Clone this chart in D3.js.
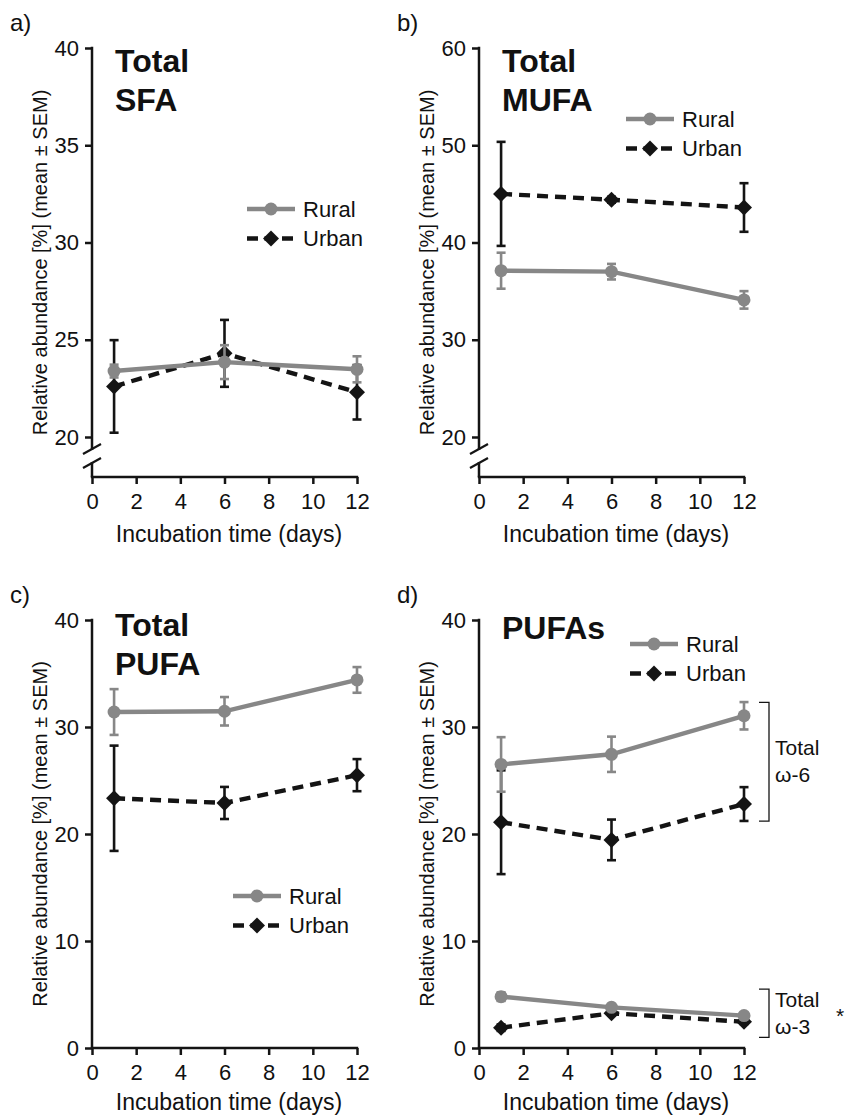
<!DOCTYPE html>
<html><head><meta charset="utf-8">
<script src="https://cdn.jsdelivr.net/npm/d3@7"></script>
<style>
body{margin:0;background:#fff}
svg{display:block}
text{font-family:"Liberation Sans",Arial,Helvetica,sans-serif;fill:#111}
</style>
</head><body>
<svg id="chart" width="853" height="1117"></svg>
<script>
// ---------- data ----------
const days = [1, 6, 12];
const xTicks = [0, 2, 4, 6, 8, 10, 12];
const seriesNames = ["Rural", "Urban"];

const sfaRural = [23.39, 23.85, 23.48], sfaRuralSem = [0.33, 0.87, 0.67];
const sfaUrban = [22.6, 24.3, 22.3],   sfaUrbanSem = [2.38, 1.72, 1.4];
const sfaTicks = [20, 25, 30, 35, 40];

const mufaRural = [37.1, 37.0, 34.1],  mufaRuralSem = [1.85, 0.8, 0.9];
const mufaUrban = [45.0, 44.4, 43.6],  mufaUrbanSem = [5.35, 0.3, 2.5];
const mufaTicks = [20, 30, 40, 50, 60];

const pufaRural = [31.4, 31.47, 34.4], pufaRuralSem = [2.14, 1.33, 1.2];
const pufaUrban = [23.34, 22.9, 25.5], pufaUrbanSem = [4.92, 1.5, 1.5];
const pufaTicks = [0, 10, 20, 30, 40];

const n6Rural = [26.5, 27.45, 31.05],  n6RuralSem = [2.55, 1.65, 1.28];
const n6Urban = [21.1, 19.45, 22.8],   n6UrbanSem = [4.85, 1.9, 1.58];
const n3Rural = [4.8, 3.8, 3.03],      n3RuralSem = [0.4, 0.3, 0.2];
const n3Urban = [1.9, 3.25, 2.45],     n3UrbanSem = [0.3, 0.2, 0.2];
const omega6Range = [21.2, 32.3], omega3Range = [1.0, 5.5];

// ---------- style ----------
const GRAY = "#878787", BLACK = "#141414";
const FONT = '"Liberation Sans",Arial,sans-serif';
const svg = d3.select("#chart");

function drawPanel(o) {
  const g = svg.append("g");
  const x = d3.scaleLinear().domain([0, 12]).range([o.x0, o.x0 + 265]);
  const y = d3.scaleLinear().domain(o.domain).range([o.yBot, o.yTop]);

  // y axis ticks
  const ya = g.append("g").attr("transform", `translate(${o.x0},0)`)
    .call(d3.axisLeft(y).tickValues(o.ticks).tickSize(7).tickPadding(6).tickSizeOuter(0));
  ya.select(".domain").remove();
  ya.selectAll("line").attr("stroke", BLACK).attr("stroke-width", 2.5);
  ya.selectAll("text").attr("font-size", 22).attr("fill", BLACK).attr("font-family", FONT);

  // y axis line (with optional break)
  if (o.brk) {
    const b1 = o.axisY - 28, b2 = o.axisY - 14;
    g.append("line").attr("x1", o.x0).attr("x2", o.x0).attr("y1", o.yTop - 1.2).attr("y2", b1 + 1)
      .attr("stroke", BLACK).attr("stroke-width", 2.5);
    g.append("line").attr("x1", o.x0).attr("x2", o.x0).attr("y1", b2 - 1).attr("y2", o.axisY)
      .attr("stroke", BLACK).attr("stroke-width", 2.5);
    [b1, b2].forEach(b => g.append("line")
      .attr("x1", o.x0 - 9).attr("y1", b + 5).attr("x2", o.x0 + 9).attr("y2", b - 5)
      .attr("stroke", BLACK).attr("stroke-width", 2.2));
  } else {
    g.append("line").attr("x1", o.x0).attr("x2", o.x0).attr("y1", o.yTop - 1.2).attr("y2", o.axisY)
      .attr("stroke", BLACK).attr("stroke-width", 2.5);
  }

  // x axis
  const xa = g.append("g").attr("transform", `translate(0,${o.axisY})`)
    .call(d3.axisBottom(x).tickValues(xTicks).tickSize(7).tickPadding(9).tickSizeOuter(0));
  xa.select(".domain").attr("stroke", BLACK).attr("stroke-width", 2.5)
    .attr("d", `M${o.x0 - 1.2},0H${o.x0 + 265 + 1.2}`);
  xa.selectAll("line").attr("stroke", BLACK).attr("stroke-width", 2.5);
  xa.selectAll("text").attr("font-size", 22).attr("fill", BLACK).attr("font-family", FONT);

  // axis titles
  g.append("text").attr("x", o.x0 + 137).attr("y", o.axisY + o.xtDy)
    .attr("text-anchor", "middle").attr("font-size", 23).text("Incubation time (days)");
  const cy = (o.yTop + o.axisY) / 2;
  g.append("text").attr("transform", `translate(${o.x0 - 45},${cy}) rotate(-90)`)
    .attr("text-anchor", "middle").attr("font-size", 20)
    .text("Relative abundance [%] (mean \u00b1 SEM)");

  // panel letter
  g.append("text").attr("x", o.x0 - 82).attr("y", o.yTop - 17).attr("font-size", 24).text(o.letter);

  // title
  o.title.forEach((t, i) => g.append("text").attr("x", o.x0 + 23).attr("y", o.titleY + i * 39)
    .attr("font-size", 32).attr("font-weight", "bold").text(t));

  // series
  o.series.forEach(s => {
    const pts = days.map((d, i) => ({ d, v: s.vals[i], e: s.sem[i] }));
    const sg = g.append("g");
    sg.append("path").datum(pts)
      .attr("d", d3.line().x(p => x(p.d)).y(p => y(p.v)))
      .attr("fill", "none").attr("stroke", s.color).attr("stroke-width", 4.4)
      .attr("stroke-dasharray", s.dashed ? "11,7" : null);
    pts.forEach(p => {
      sg.append("line").attr("x1", x(p.d)).attr("x2", x(p.d)).attr("y1", y(p.v - p.e)).attr("y2", y(p.v + p.e))
        .attr("stroke", s.color).attr("stroke-width", 2.6);
      [p.v - p.e, p.v + p.e].forEach(c => sg.append("line")
        .attr("x1", x(p.d) - 4.5).attr("x2", x(p.d) + 4.5).attr("y1", y(c)).attr("y2", y(c))
        .attr("stroke", s.color).attr("stroke-width", 2.6));
    });
    pts.forEach(p => marker(sg, s.kind, x(p.d), y(p.v), s.color));
  });

  // legend
  const L = o.legend;
  seriesNames.forEach((name, i) => {
    const yy = L.y + i * 29.5;
    const rural = name === "Rural";
    g.append("line").attr("x1", L.x).attr("x2", L.x + 48).attr("y1", yy).attr("y2", yy)
      .attr("stroke", rural ? GRAY : BLACK).attr("stroke-width", 4.4)
      .attr("stroke-dasharray", rural ? null : "11,6.5");
    marker(g, rural ? "circle" : "diamond", L.x + 24, yy, rural ? GRAY : BLACK);
    g.append("text").attr("x", L.x + 56).attr("y", yy).attr("dy", "0.36em")
      .attr("font-size", 22).text(name);
  });
  return { x, y, g };
}

function marker(g, kind, cx, cy, color) {
  if (kind === "circle") {
    g.append("circle").attr("cx", cx).attr("cy", cy).attr("r", 6.5).attr("fill", color);
  } else {
    g.append("path").attr("d", "M0,-8L8,0L0,8L-8,0Z")
      .attr("transform", `translate(${cx},${cy})`).attr("fill", color);
  }
}

const R = (vals, sem) => ({ vals, sem, color: GRAY, kind: "circle", dashed: false });
const U = (vals, sem) => ({ vals, sem, color: BLACK, kind: "diamond", dashed: true });

drawPanel({ letter: "a)", x0: 92, domain: [20, 40], ticks: sfaTicks, yBot: 437, yTop: 48, axisY: 477, brk: true,
  xtDy: 65, title: ["Total", "SFA"], titleY: 72, legend: { x: 247, y: 209 },
  series: [U(sfaUrban, sfaUrbanSem), R(sfaRural, sfaRuralSem)] });

drawPanel({ letter: "b)", x0: 479, domain: [20, 60], ticks: mufaTicks, yBot: 437, yTop: 48, axisY: 477, brk: true,
  xtDy: 65, title: ["Total", "MUFA"], titleY: 72, legend: { x: 626, y: 119 },
  series: [U(mufaUrban, mufaUrbanSem), R(mufaRural, mufaRuralSem)] });

drawPanel({ letter: "c)", x0: 92, domain: [0, 40], ticks: pufaTicks, yBot: 1048, yTop: 620, axisY: 1048, brk: false,
  xtDy: 62, title: ["Total", "PUFA"], titleY: 636, legend: { x: 233, y: 896 },
  series: [U(pufaUrban, pufaUrbanSem), R(pufaRural, pufaRuralSem)] });

const pd = drawPanel({ letter: "d)", x0: 479, domain: [0, 40], ticks: pufaTicks, yBot: 1048, yTop: 620, axisY: 1048, brk: false,
  xtDy: 62, title: ["PUFAs"], titleY: 639, legend: { x: 630, y: 644 },
  series: [U(n6Urban, n6UrbanSem), R(n6Rural, n6RuralSem), U(n3Urban, n3UrbanSem), R(n3Rural, n3RuralSem)] });

// brackets in panel d
function bracket(range, labels, star) {
  const y = pd.y, bx = pd.x(12) + 25;
  pd.g.append("path")
    .attr("d", `M${bx - 10},${y(range[1])}H${bx}V${y(range[0])}H${bx - 10}`)
    .attr("fill", "none").attr("stroke", BLACK).attr("stroke-width", 1.3);
  const mid = (y(range[0]) + y(range[1])) / 2;
  labels.forEach((t, i) => pd.g.append("text").attr("x", bx + 6).attr("y", mid + (i - 0.5) * 27 + 7)
    .attr("font-size", 21).text(t));
  if (star) pd.g.append("text").attr("x", bx + 67).attr("y", mid + 10).attr("font-size", 21).text(star);
}
bracket(omega6Range, ["Total", "\u03c9-6"]);
bracket(omega3Range, ["Total", "\u03c9-3"], "*");
</script>
</body></html>
